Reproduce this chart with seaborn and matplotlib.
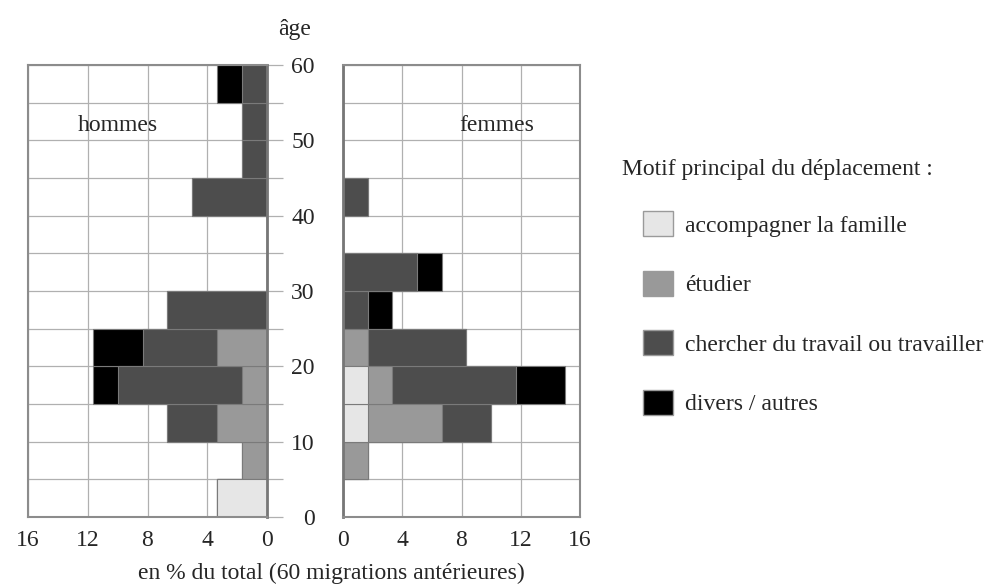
import pandas as pd
import seaborn as sns
import matplotlib.pyplot as plt
from matplotlib.patches import Patch

# age groups (lower bound of each 5-year group)
age_start = [0, 5, 10, 15, 20, 25, 30, 35, 40, 45, 50, 55]
total_migrations = 60

motifs = ["accompagner la famille", "étudier",
          "chercher du travail ou travailler", "divers / autres"]
colors = ["#e6e6e6", "#999999", "#4d4d4d", "#000000"]

# number of migrations per age group, from 0-5 up to 55-60
hommes_famille = [2, 0, 0, 0, 0, 0, 0, 0, 0, 0, 0, 0]
hommes_etudier = [0, 1, 2, 1, 2, 0, 0, 0, 0, 0, 0, 0]
hommes_travail = [0, 0, 2, 5, 3, 4, 0, 0, 3, 1, 1, 1]
hommes_divers = [0, 0, 0, 1, 2, 0, 0, 0, 0, 0, 0, 1]

femmes_famille = [0, 0, 1, 1, 0, 0, 0, 0, 0, 0, 0, 0]
femmes_etudier = [0, 1, 3, 1, 1, 0, 0, 0, 0, 0, 0, 0]
femmes_travail = [0, 0, 2, 5, 4, 1, 3, 0, 1, 0, 0, 0]
femmes_divers = [0, 0, 0, 2, 0, 1, 1, 0, 0, 0, 0, 0]

x_ticks = [0, 4, 8, 12, 16]
age_ticks = list(range(0, 61, 5))
age_labels = [str(a) if a % 10 == 0 else "" for a in age_ticks]

sns.set_theme(style="white")
plt.rcParams['font.family'] = ['Liberation Serif', 'DejaVu Serif']
plt.rcParams['font.size'] = 17

grid_col = '#b0b0b0'
spine_col = '#8c8c8c'


def draw_side(ax, series):
    df = pd.DataFrame({'age': [a + 2.5 for a in age_start]})
    for m, vals in zip(motifs, series):
        df[m] = [v * 100 / total_migrations for v in vals]
    cum = df[motifs].cumsum(axis=1)
    # stacked bars: draw the cumulative totals from the outside in
    for m, c in reversed(list(zip(motifs, colors))):
        d = pd.DataFrame({'age': df['age'], 'pct': cum[m]})
        sns.barplot(data=d, x='pct', y='age', orient='h', native_scale=True,
                    width=1, color=c, saturation=1, errorbar=None,
                    edgecolor='#7a7a7a', linewidth=0.8, ax=ax)
    ax.set_xlabel('')
    ax.set_ylabel('')
    ax.set_ylim(0, 60)
    ax.set_xticks(x_ticks)
    ax.set_yticks(age_ticks)
    ax.set_axisbelow(True)
    ax.grid(True, color=grid_col, lw=0.9)
    for s in ax.spines.values():
        s.set_color(spine_col)
        s.set_linewidth(1.5)
    ax.tick_params(axis='x', length=4, color=grid_col, pad=5, labelsize=17)


fig = plt.figure(figsize=(9.91, 5.87), dpi=100)
ax_h = fig.add_axes([28 / 991, 1 - 517 / 587, 239 / 991, 452 / 587])
ax_f = fig.add_axes([343 / 991, 1 - 517 / 587, 237 / 991, 452 / 587])

draw_side(ax_h, [hommes_famille, hommes_etudier, hommes_travail, hommes_divers])
draw_side(ax_f, [femmes_famille, femmes_etudier, femmes_travail, femmes_divers])

# hommes: axis reversed, age ticks on the right side
ax_h.set_xlim(16, 0)
ax_h.yaxis.tick_right()
ax_h.tick_params(axis='y', length=11.5, color=grid_col, width=0.9, labelright=False)
ax_h.spines['right'].set_color('#777777')
ax_h.spines['right'].set_linewidth(2)

# femmes: age labels on the left
ax_f.set_xlim(0, 16)
ax_f.set_yticklabels(age_labels)
ax_f.tick_params(axis='y', length=14.4, color=grid_col, width=0.9, pad=6, labelsize=17)
ax_f.spines['left'].set_color('#777777')
ax_f.spines['left'].set_linewidth(2)

ax_h.text(10, 52, "hommes", ha='center', va='center', fontsize=17)
ax_f.text(10.4, 52, "femmes", ha='center', va='center', fontsize=17)

fig.text(295 / 991, 1 - 30 / 587, "âge", ha='center', va='center', fontsize=17)
fig.text(138 / 991, 1 - 573 / 587, "en % du total (60 migrations antérieures)",
         ha='left', va='center', fontsize=17)

# legend
fig.text(622 / 991, 1 - 170 / 587, "Motif principal du déplacement :",
         ha='left', va='center', fontsize=17)
handles = [Patch(facecolor=c, edgecolor='#9a9a9a', label=m) for m, c in zip(motifs, colors)]
fig.legend(handles=handles, loc='upper left', bbox_to_anchor=(643 / 991, 1 - 211 / 587),
           frameon=False, fontsize=17, borderpad=0, borderaxespad=0,
           handlelength=1.27, handleheight=1.27, handletextpad=0.5, labelspacing=1.44)

fig.savefig('out.png', dpi=100)
